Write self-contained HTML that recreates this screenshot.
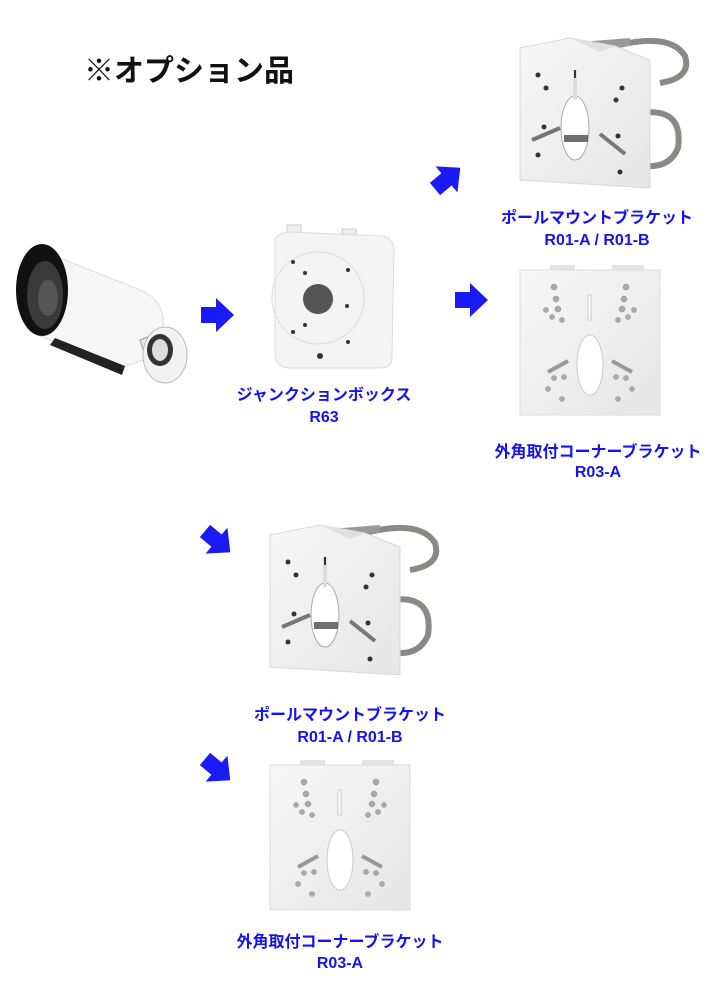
<!DOCTYPE html>
<html><head><meta charset="utf-8"><style>
html,body{margin:0;padding:0;background:#fff;width:720px;height:1000px;overflow:hidden}
svg{display:block}
.t{font-family:"Liberation Sans","Noto Sans CJK JP",sans-serif;font-weight:bold}
.b{fill:#1414f0;font-size:16px}
</style></head><body>
<svg width="720" height="1000" viewBox="0 0 720 1000" xmlns="http://www.w3.org/2000/svg">
<defs>
<linearGradient id="pl" x1="0" y1="0" x2="1" y2="1"><stop offset="0" stop-color="#f7f7f7"/><stop offset="1" stop-color="#e6e6e6"/></linearGradient>
<g id="arrow"><path d="M0,-8 H15 V-17 L33,0 L15,17 V8 H0 Z" fill="#1a1af5"/></g>
<g id="pole">
  <path d="M95,8 Q150,-6 165,18 Q172,40 140,45" fill="none" stroke="#8a8a85" stroke-width="6"/>
  <path d="M60,4 L110,0 L110,8 L60,10 Z" fill="#9a9a95"/>
  <path d="M100,80 Q165,60 158,110 Q150,130 125,128" fill="none" stroke="#8a8a85" stroke-width="6"/>
  <path d="M0,10 L50,0 L95,8 L130,22 L130,150 L0,142 Z" fill="url(#pl)" stroke="#d8d8d8"/>
  <path d="M50,0 L95,8 L80,14 Z" fill="#e0e0e0"/>
  <ellipse cx="55" cy="90" rx="14" ry="32" fill="#fff" stroke="#aaa"/>
  <rect x="44" y="97" width="24" height="7" fill="#6f6f6a"/>
  <rect x="53" y="32" width="4" height="30" fill="#ddd"/><rect x="54" y="32" width="2" height="8" fill="#333"/>
  <path d="M12,102 L40,90" stroke="#777" stroke-width="4"/><path d="M80,96 L105,116" stroke="#777" stroke-width="4"/>
  <g fill="#333"><circle cx="18" cy="37" r="2.5"/><circle cx="26" cy="50" r="2.5"/><circle cx="102" cy="50" r="2.5"/><circle cx="96" cy="62" r="2.5"/><circle cx="24" cy="89" r="2.5"/><circle cx="98" cy="98" r="2.5"/><circle cx="18" cy="117" r="2.5"/><circle cx="100" cy="134" r="2.5"/></g>
</g>
<g id="corner">
  <rect x="30" y="0" width="25" height="6" fill="#e4e4e4"/><rect x="92" y="0" width="32" height="6" fill="#e4e4e4"/>
  <rect x="0" y="5" width="140" height="145" fill="url(#pl)" stroke="#ddd"/>
  <ellipse cx="70" cy="100" rx="13" ry="30" fill="#fff" stroke="#ccc"/>
  <rect x="68" y="30" width="3" height="25" fill="#fff" stroke="#ccc"/>
  <path d="M28,107 L48,96" stroke="#999" stroke-width="4"/><path d="M92,96 L112,107" stroke="#999" stroke-width="4"/>
  <g fill="#aaa" stroke="#888" stroke-width=".5">
  <circle cx="34" cy="22" r="3"/><circle cx="36" cy="34" r="3"/><circle cx="26" cy="45" r="2.5"/><circle cx="38" cy="44" r="3"/><circle cx="32" cy="52" r="2.5"/><circle cx="42" cy="55" r="2.5"/>
  <circle cx="106" cy="22" r="3"/><circle cx="104" cy="34" r="3"/><circle cx="114" cy="45" r="2.5"/><circle cx="102" cy="44" r="3"/><circle cx="108" cy="52" r="2.5"/><circle cx="98" cy="55" r="2.5"/>
  <circle cx="34" cy="113" r="2.5"/><circle cx="44" cy="112" r="2.5"/><circle cx="28" cy="124" r="2.5"/><circle cx="42" cy="134" r="2.5"/>
  <circle cx="106" cy="113" r="2.5"/><circle cx="96" cy="112" r="2.5"/><circle cx="112" cy="124" r="2.5"/><circle cx="98" cy="134" r="2.5"/></g>
</g>
</defs>

<text class="t" x="84" y="81" font-size="30" fill="#111">※オプション品</text>

<!-- camera -->
<g>
  <path d="M45,252 L145,292 Q168,305 162,332 L150,358 L120,368 L30,332 Z" fill="#f6f6f6" stroke="#ddd"/>
  <path d="M125,366 L55,338 L50,345 L122,375 Z" fill="#222"/>
  <ellipse cx="42" cy="290" rx="26" ry="46" fill="#111"/>
  <ellipse cx="45" cy="295" rx="18" ry="34" fill="#3a3a3a"/>
  <ellipse cx="48" cy="298" rx="10" ry="18" fill="#555"/>
  <path d="M140,340 L165,330 L175,360 L150,372 Z" fill="#e8e8e8" stroke="#999"/>
  <ellipse cx="165" cy="355" rx="22" ry="28" fill="#f2f2f2" stroke="#bbb"/>
  <ellipse cx="160" cy="350" rx="13" ry="16" fill="#333"/>
  <ellipse cx="160" cy="350" rx="8" ry="11" fill="#ddd"/>
</g>
<use href="#arrow" x="201" y="315"/>

<!-- junction box -->
<g>
  <rect x="287" y="225" width="14" height="14" fill="#eee" stroke="#ccc"/><rect x="342" y="229" width="14" height="14" fill="#eee" stroke="#ccc"/>
  <path d="M275,240 Q278,232 290,232 L382,236 Q394,238 394,250 L392,358 Q392,368 380,368 L290,368 Q277,368 275,356 Z" fill="#f4f4f4" stroke="#ddd"/>
  <circle cx="318" cy="298" r="46" fill="none" stroke="#ddd"/>
  <circle cx="318" cy="299" r="15" fill="#555"/>
  <g fill="#333"><circle cx="293" cy="262" r="2"/><circle cx="305" cy="273" r="2"/><circle cx="348" cy="270" r="2"/><circle cx="347" cy="306" r="2"/><circle cx="305" cy="325" r="2"/><circle cx="293" cy="332" r="2"/><circle cx="348" cy="342" r="2"/><circle cx="320" cy="356" r="3"/></g>
</g>
<text class="t b" x="324" y="400" text-anchor="middle">ジャンクションボックス</text>
<text class="t b" x="324" y="422" text-anchor="middle">R63</text>

<use href="#arrow" transform="translate(435,189) rotate(-40)"/>
<use href="#pole" x="520" y="38"/>
<text class="t b" x="597" y="223" text-anchor="middle">ポールマウントブラケット</text>
<text class="t b" x="597" y="245" text-anchor="middle">R01-A / R01-B</text>

<use href="#arrow" x="455" y="300"/>
<use href="#corner" x="520" y="265"/>
<text class="t b" x="598" y="457" text-anchor="middle" font-size="15">外角取付コーナーブラケット</text>
<text class="t b" x="598" y="477" text-anchor="middle" font-size="15">R03-A</text>

<use href="#arrow" transform="translate(205,531) rotate(40)"/>
<use href="#pole" x="270" y="525"/>
<text class="t b" x="350" y="720" text-anchor="middle">ポールマウントブラケット</text>
<text class="t b" x="350" y="742" text-anchor="middle">R01-A / R01-B</text>

<use href="#arrow" transform="translate(205,759) rotate(40)"/>
<use href="#corner" x="270" y="760"/>
<text class="t b" x="340" y="947" text-anchor="middle" font-size="15">外角取付コーナーブラケット</text>
<text class="t b" x="340" y="968" text-anchor="middle" font-size="15">R03-A</text>
</svg>
</body></html>
